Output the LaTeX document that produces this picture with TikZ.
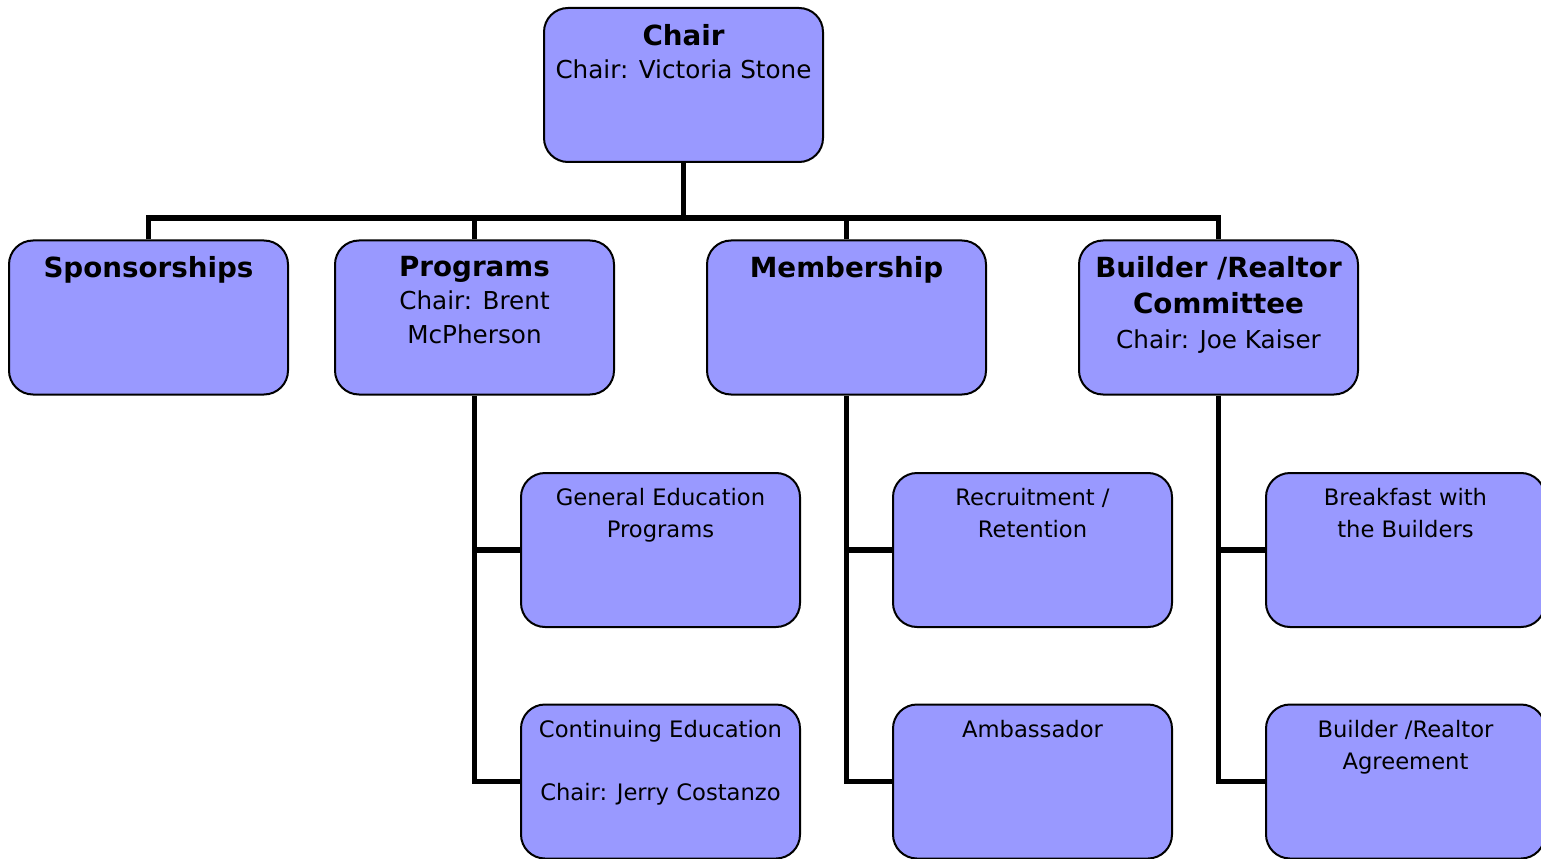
\documentclass[tikz,border=0pt]{standalone}
\usepackage{fontspec}
\setmainfont{DejaVu Sans}
\usetikzlibrary{backgrounds}
\newlength{\du}
\setlength{\du}{0.75pt}
\definecolor{boxfill}{rgb}{0.600000, 0.600000, 1.000000}
\newcommand{\unittitle}[1]{{\fontsize{20.8}{27}\selectfont\bfseries #1}}
\tikzset{
  unitbox/.style={draw=black, line width=2\du, fill=boxfill, rounded corners=24\du,
    minimum width=279\du, minimum height=154\du, inner sep=0pt},
  headtext/.style={anchor=north, align=center, inner sep=0pt,
    font=\fontsize{18.5}{25}\selectfont},
  subtext/.style={anchor=north, align=center, inner sep=0pt,
    font=\fontsize{17}{24}\selectfont},
  link/.style={draw=black, line width=5.5\du},
}
\begin{document}
\begin{tikzpicture}
\pgftransformxscale{1.000000}
\pgftransformyscale{-1.000000}
\useasboundingbox (0\du,0\du) rectangle (1541\du,859\du);
% top
\node[unitbox] (chair) at (683.5\du,85\du) {};
\node[headtext] (chair-txt) at (683.5\du,24\du) {\unittitle{Chair}\\Chair: Victoria Stone};
% committees
\node[unitbox] (spons) at (148.5\du,317.5\du) {};
\node[headtext] (spons-txt) at (148.5\du,256\du) {\unittitle{Sponsorships}};
\node[unitbox] (prog) at (474.5\du,317.5\du) {};
\node[headtext] (prog-txt) at (474.5\du,256\du) {\unittitle{Programs}\\Chair: Brent\\McPherson};
\node[unitbox] (memb) at (846.5\du,317.5\du) {};
\node[headtext] (memb-txt) at (846.5\du,256\du) {\unittitle{Membership}};
\node[unitbox] (build) at (1218.5\du,317.5\du) {};
\node[headtext] (build-txt) at (1218.5\du,256\du) {\unittitle{Builder /Realtor}\\[2pt]\unittitle{Committee}\\[1pt]Chair: Joe Kaiser};
% sub groups
\node[unitbox] (gened) at (660.5\du,550\du) {};
\node[subtext] (gened-txt) at (660.5\du,488\du) {General Education\\Programs};
\node[unitbox] (cont) at (660.5\du,781.5\du) {};
\node[subtext] (cont-txt) at (660.5\du,720\du) {Continuing Education\\[23.6pt]Chair: Jerry Costanzo};
\node[unitbox] (recr) at (1032.5\du,550\du) {};
\node[subtext] (recr-txt) at (1032.5\du,488\du) {Recruitment /\\Retention};
\node[unitbox] (amb) at (1032.5\du,781.5\du) {};
\node[subtext] (amb-txt) at (1032.5\du,720\du) {Ambassador};
\node[unitbox] (bkfst) at (1405.5\du,550\du) {};
\node[subtext] (bkfst-txt) at (1405.5\du,488\du) {Breakfast with\\the Builders};
\node[unitbox] (agree) at (1405.5\du,781.5\du) {};
\node[subtext] (agree-txt) at (1405.5\du,720\du) {Builder /Realtor\\Agreement};
\coordinate (bus) at (683.5\du,218\du);
\begin{scope}[on background layer]
\draw[link] (chair.south) -- (bus);
\draw[link] (spons.north) -- (spons.north |- bus) -- (build.north |- bus) -- (build.north);
\draw[link] (prog.north) -- (prog.north |- bus);
\draw[link] (memb.north) -- (memb.north |- bus);
\draw[link] (prog.south) |- (cont.west);
\draw[link] (gened.west) -- (gened.west -| prog.south);
\draw[link] (memb.south) |- (amb.west);
\draw[link] (recr.west) -- (recr.west -| memb.south);
\draw[link] (build.south) |- (agree.west);
\draw[link] (bkfst.west) -- (bkfst.west -| build.south);
\end{scope}
\end{tikzpicture}
\end{document}
